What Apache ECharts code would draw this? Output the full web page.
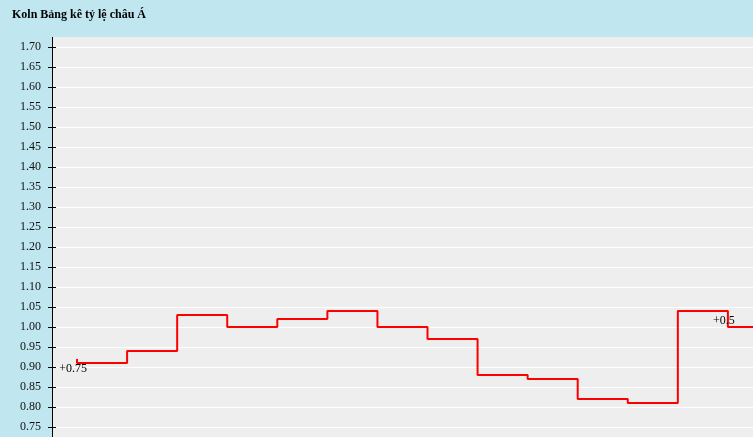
<!DOCTYPE html>
<html>
<head>
<meta charset="utf-8">
<script src="https://cdn.jsdelivr.net/npm/echarts@6/dist/echarts.min.js"></script>
<style>
  html, body { margin: 0; padding: 0; }
  #chart { width: 753px; height: 437px; }
</style>
</head>
<body>
<div id="chart"></div>
<script>
var titleText = "Koln Bảng kê tỷ lệ châu Á";
var categories = ["1", "2", "3", "4", "5", "6", "7", "8", "9", "10", "11", "12", "13", "14", "15"];
var oddsValues = [0.92, 0.91, 0.94, 1.03, 1.00, 1.02, 1.04, 1.00, 0.97, 0.88, 0.87, 0.82, 0.81, 1.04, 1.00];
var handicapLabels = ["+0.75", "", "", "", "", "", "", "", "", "", "", "", "", "+0.5", ""];

var seriesData = oddsValues.map(function (v, i) {
  return {
    value: v,
    label: { show: handicapLabels[i] !== "", formatter: handicapLabels[i] }
  };
});

var serif = "'Liberation Serif', 'DejaVu Serif', serif";
var chart = echarts.init(document.getElementById("chart"));
chart.setOption({
  animation: false,
  backgroundColor: "#c0e6f0",
  grid: {
    left: 52,
    top: 27,
    width: 751,
    height: 420,
    outerBoundsMode: "none",
    containLabel: false,
    show: true,
    backgroundColor: "#eeeeee",
    borderWidth: 0
  },
  xAxis: {
    type: "category",
    data: categories,
    boundaryGap: true,
    show: false
  },
  yAxis: [
    {
      type: "value",
      min: 0.70,
      max: 1.75,
      interval: 0.05,
      axisLine: { show: true, lineStyle: { color: "#000", width: 1 } },
      axisTick: { show: true, length: 4, lineStyle: { color: "#000" } },
      axisLabel: {
        margin: 11,
        color: "#111",
        fontFamily: serif,
        fontSize: 12,
        formatter: function (v) { return v.toFixed(2); }
      },
      splitLine: { show: true, lineStyle: { color: "#ffffff", width: 1 } }
    },
    {
      type: "value",
      position: "left",
      min: 0.70,
      max: 1.75,
      interval: 0.05,
      axisLine: { show: false },
      axisTick: { show: true, inside: true, length: 4, lineStyle: { color: "#000" } },
      axisLabel: { show: false },
      splitLine: { show: false }
    }
  ],
  graphic: [
    {
      type: "rect",
      left: 0,
      top: 0,
      shape: { width: 753, height: 37 },
      style: { fill: "#c0e6f0" },
      z: 100
    },
    {
      type: "text",
      left: 12,
      top: 9,
      style: {
        text: titleText,
        fill: "#000",
        font: "bold 12px " + serif
      },
      z: 101
    }
  ],
  series: [
    {
      type: "line",
      step: "start",
      data: seriesData,
      symbol: "circle",
      symbolSize: 0,
      showSymbol: true,
      lineStyle: { color: "#ff0000", width: 2 },
      itemStyle: { color: "#ff0000" },
      label: {
        position: "inside",
        offset: [-4, 10],
        color: "#000",
        fontFamily: serif,
        fontSize: 12
      }
    }
  ]
});
</script>
</body>
</html>
